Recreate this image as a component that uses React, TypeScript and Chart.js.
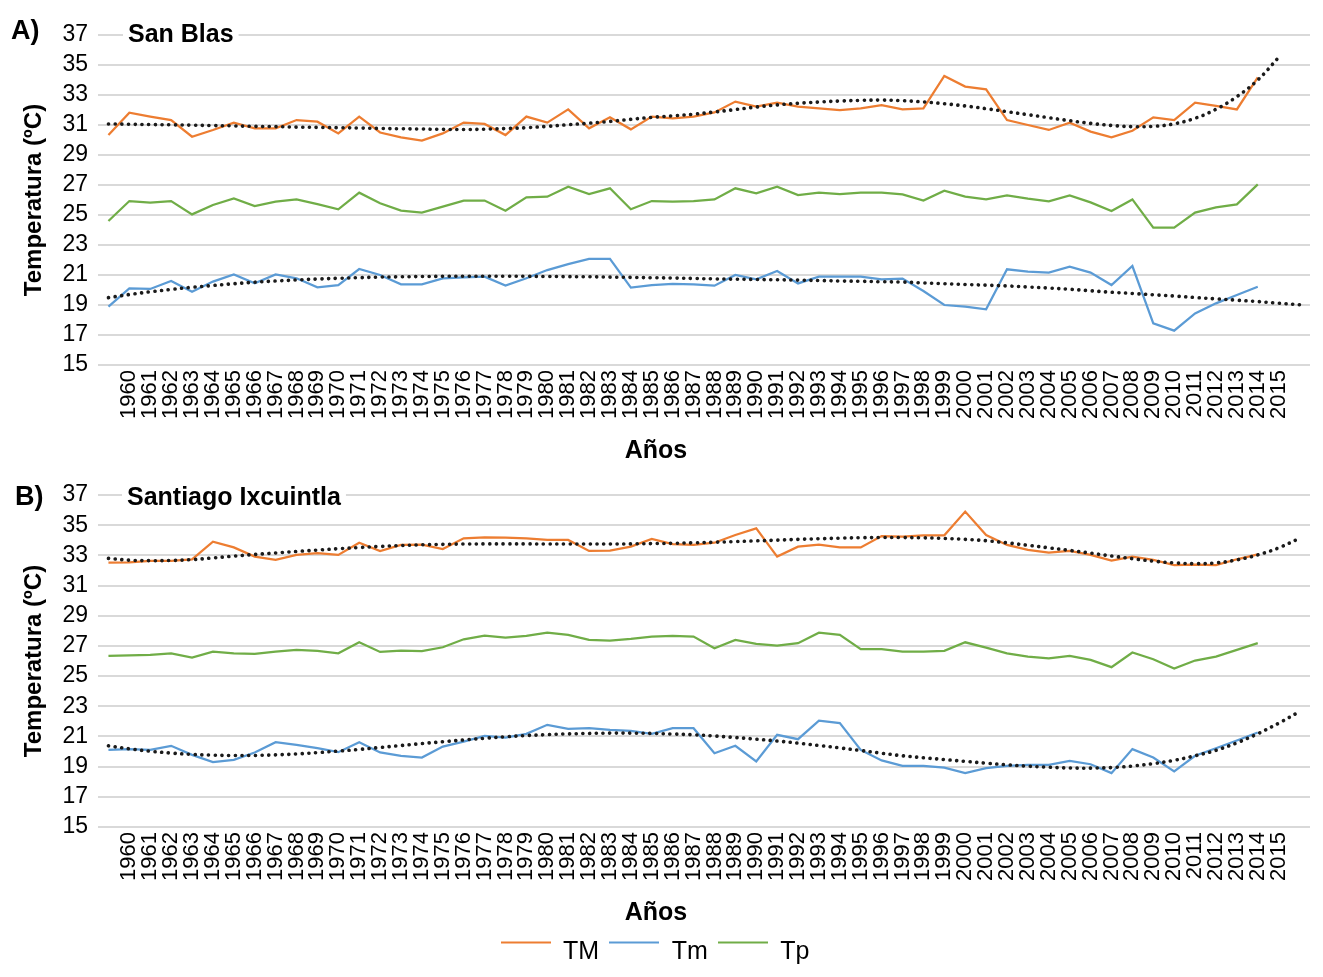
import React, { useEffect, useRef } from 'react';
import { Chart, registerables } from 'chart.js';

Chart.register(...registerables);

// ---------- DATA ----------
const yearLabels = [
  '', '1960', '1961', '1962', '1963', '1964', '1965', '1966', '1967', '1968', '1969',
  '1970', '1971', '1972', '1973', '1974', '1975', '1976', '1977', '1978', '1979',
  '1980', '1981', '1982', '1983', '1984', '1985', '1986', '1987', '1988', '1989',
  '1990', '1991', '1992', '1993', '1994', '1995', '1996', '1997', '1998', '1999',
  '2000', '2001', '2002', '2003', '2004', '2005', '2006', '2007', '2008', '2009',
  '2010', '2011', '2012', '2013', '2014', '2015', '',
];

const yTicks = [15, 17, 19, 21, 23, 25, 27, 29, 31, 33, 35, 37];

// A) San Blas
const sanBlasTM = [
  30.33, 31.82, 31.56, 31.33, 30.22, 30.67, 31.16, 30.78, 30.78, 31.33,
  31.22, 30.44, 31.56, 30.5, 30.18, 29.96, 30.44, 31.16, 31.07, 30.33,
  31.56, 31.16, 32.04, 30.78, 31.51, 30.71, 31.56, 31.44, 31.56, 31.84,
  32.56, 32.22, 32.49, 32.22, 32.11, 32.0, 32.11, 32.33, 32.04, 32.11,
  34.27, 33.56, 33.38, 31.33, 31.0, 30.67, 31.16, 30.56, 30.18, 30.62,
  31.51, 31.33, 32.49, 32.27, 32.04, 34.18,
];
const sanBlasTm = [
  18.89, 20.11, 20.07, 20.6, 19.89, 20.56, 21.04, 20.44, 21.04, 20.78,
  20.18, 20.33, 21.4, 21.0, 20.38, 20.38, 20.78, 20.84, 20.89, 20.29,
  20.78, 21.33, 21.73, 22.07, 22.07, 20.16, 20.33, 20.4, 20.38, 20.29,
  21.0, 20.71, 21.27, 20.44, 20.89, 20.89, 20.89, 20.71, 20.76, 19.93,
  19.0, 18.89, 18.71, 21.38, 21.22, 21.16, 21.56, 21.16, 20.33, 21.6,
  17.78, 17.29, 18.44, 19.11, 19.67, 20.22,
];
const sanBlasTp = [
  24.6, 25.93, 25.82, 25.93, 25.04, 25.67, 26.11, 25.6, 25.89, 26.04,
  25.73, 25.38, 26.49, 25.78, 25.29, 25.16, 25.56, 25.96, 25.96, 25.29,
  26.18, 26.22, 26.89, 26.4, 26.78, 25.38, 25.93, 25.89, 25.93, 26.04,
  26.78, 26.44, 26.89, 26.33, 26.49, 26.4, 26.49, 26.49, 26.38, 25.96,
  26.62, 26.22, 26.04, 26.31, 26.09, 25.91, 26.31, 25.84, 25.27, 26.04,
  24.16, 24.16, 25.16, 25.51, 25.71, 27.04,
];
const sanBlasTMTrend = [
  31.07, 31.05, 31.03, 31.01, 30.99, 30.96, 30.94, 30.91, 30.89, 30.86,
  30.84, 30.82, 30.8, 30.77, 30.75, 30.73, 30.71, 30.7, 30.72, 30.76,
  30.82, 30.91, 31.02, 31.12, 31.24, 31.38, 31.51, 31.61, 31.72, 31.87,
  32.03, 32.2, 32.34, 32.45, 32.53, 32.6, 32.64, 32.66, 32.62, 32.54,
  32.42, 32.27, 32.09, 31.89, 31.69, 31.49, 31.29, 31.11, 30.97, 30.89,
  30.91, 31.08, 31.45, 32.05, 32.89, 34.0, 35.51,
];
const sanBlasTmTrend = [
  19.49, 19.7, 19.88, 20.04, 20.18, 20.3, 20.42, 20.52, 20.6, 20.67,
  20.73, 20.78, 20.82, 20.86, 20.88, 20.9, 20.91, 20.92, 20.92, 20.92,
  20.91, 20.9, 20.89, 20.88, 20.86, 20.84, 20.82, 20.8, 20.77, 20.74,
  20.72, 20.7, 20.68, 20.66, 20.63, 20.6, 20.58, 20.55, 20.53, 20.47,
  20.42, 20.37, 20.32, 20.27, 20.2, 20.13, 20.05, 19.95, 19.85, 19.77,
  19.68, 19.6, 19.5, 19.41, 19.32, 19.23, 19.12, 19.02,
];

// B) Santiago Ixcuintla
const santiagoTM = [
  32.52, 32.54, 32.63, 32.63, 32.74, 33.91, 33.53, 32.92, 32.7, 33.03,
  33.14, 33.03, 33.84, 33.29, 33.69, 33.71, 33.42, 34.13, 34.2, 34.17,
  34.13, 34.02, 34.02, 33.29, 33.31, 33.58, 34.09, 33.75, 33.69, 33.84,
  34.35, 34.79, 32.92, 33.58, 33.71, 33.53, 33.53, 34.28, 34.24, 34.33,
  34.33, 35.9, 34.35, 33.69, 33.36, 33.18, 33.29, 33.03, 32.65, 32.92,
  32.7, 32.36, 32.39, 32.36, 32.74, 33.07,
];
const santiagoTm = [
  20.11, 20.16, 20.11, 20.38, 19.78, 19.3, 19.45, 19.94, 20.62, 20.44,
  20.22, 19.96, 20.62, 19.94, 19.72, 19.6, 20.33, 20.66, 21.04, 20.93,
  21.17, 21.77, 21.5, 21.55, 21.44, 21.37, 21.17, 21.55, 21.55, 19.89,
  20.38, 19.34, 21.11, 20.82, 22.05, 21.88, 20.11, 19.41, 19.05, 19.05,
  18.94, 18.57, 18.9, 19.05, 19.12, 19.12, 19.38, 19.16, 18.57, 20.16,
  19.6, 18.68, 19.72, 20.22, 20.73, 21.26,
];
const santiagoTp = [
  26.34, 26.38, 26.4, 26.51, 26.23, 26.62, 26.51, 26.47, 26.62, 26.74,
  26.67, 26.51, 27.24, 26.6, 26.69, 26.65, 26.91, 27.44, 27.68, 27.55,
  27.66, 27.88, 27.73, 27.4, 27.35, 27.46, 27.62, 27.66, 27.62, 26.85,
  27.4, 27.13, 27.02, 27.18, 27.88, 27.73, 26.78, 26.78, 26.62, 26.62,
  26.67, 27.24, 26.89, 26.51, 26.29, 26.18, 26.34, 26.07, 25.59, 26.56,
  26.12, 25.5, 26.03, 26.29, 26.74, 27.18,
];
const santiagoTMTrend = [
  32.8, 32.68, 32.65, 32.66, 32.72, 32.83, 32.95, 33.06, 33.16, 33.26,
  33.35, 33.44, 33.52, 33.59, 33.65, 33.7, 33.73, 33.75, 33.76, 33.76,
  33.76, 33.75, 33.75, 33.75, 33.75, 33.76, 33.78, 33.8, 33.83, 33.87,
  33.91, 33.96, 34.01, 34.06, 34.1, 34.14, 34.17, 34.18, 34.18, 34.16,
  34.12, 34.06, 33.97, 33.83, 33.67, 33.5, 33.33, 33.15, 32.96, 32.78,
  32.62, 32.5, 32.45, 32.5, 32.7, 33.03, 33.5, 34.13,
];
const santiagoTmTrend = [
  20.38, 20.18, 20.02, 19.9, 19.81, 19.76, 19.74, 19.74, 19.78, 19.84,
  19.93, 20.03, 20.14, 20.27, 20.4, 20.53, 20.65, 20.77, 20.88, 20.98,
  21.06, 21.12, 21.17, 21.2, 21.22, 21.22, 21.2, 21.16, 21.11, 21.03,
  20.93, 20.82, 20.7, 20.56, 20.4, 20.24, 20.07, 19.89, 19.72, 19.59,
  19.47, 19.35, 19.23, 19.12, 19.03, 18.96, 18.91, 18.9, 18.94, 19.04,
  19.2, 19.42, 19.72, 20.08, 20.58, 21.18, 21.88, 22.65,
];

// ---------- STYLE ----------
const FONT = '"Liberation Sans", Arial, Helvetica, sans-serif';
const COLOR_TM = '#ED7D31';
const COLOR_Tm = '#5B9BD5';
const COLOR_Tp = '#70AD47';
const COLOR_TREND = '#1a1a1a';
const GRID = '#d9d9d9';

// Legend symbol: a short line sitting a little above the label's centre
function legendLine(color: string) {
  const c = document.createElement('canvas');
  c.width = 50;
  c.height = 26;
  const g = c.getContext('2d');
  if (g) {
    g.strokeStyle = color;
    g.lineWidth = 2;
    g.beginPath();
    g.moveTo(0, 3);
    g.lineTo(50, 3);
    g.stroke();
  }
  return c;
}

function lineDs(label: string, data: number[], color: string) {
  return {
    label,
    data,
    borderColor: color,
    backgroundColor: color,
    borderWidth: 2.25,
    pointRadius: 0,
    pointHoverRadius: 0,
    pointStyle: legendLine(color),
    tension: 0,
    fill: false,
    order: 1,
  };
}

function trendDs(data: number[]) {
  return {
    label: 'trend',
    data,
    isTrend: true,
    borderColor: COLOR_TREND,
    backgroundColor: COLOR_TREND,
    borderWidth: 3.6,
    borderDash: [0.1, 6.6],
    borderCapStyle: 'round',
    pointRadius: 0,
    pointHoverRadius: 0,
    tension: 0.4,
    fill: false,
    order: 0,
  };
}

const panelTextPlugin = {
  id: 'panelText',
  afterDraw(chart: any, _args: any, opts: any) {
    if (!opts || !opts.title) return;
    const ctx = chart.ctx;
    const yTop = chart.scales.y.getPixelForValue(37);
    ctx.save();
    ctx.font = `bold 25px ${FONT}`;
    const w = ctx.measureText(opts.title).width;
    ctx.fillStyle = '#ffffff';
    ctx.fillRect(opts.titleX - 5, yTop - 4, w + 10, 8);
    ctx.fillStyle = '#000000';
    ctx.textAlign = 'left';
    ctx.textBaseline = 'alphabetic';
    ctx.fillText(opts.title, opts.titleX, yTop + opts.titleDy);
    ctx.font = `bold 27px ${FONT}`;
    ctx.fillText(opts.letter, opts.letterX, yTop + opts.letterDy);
    ctx.font = `bold 25px ${FONT}`;
    ctx.textAlign = 'center';
    ctx.textBaseline = 'middle';
    ctx.fillText(opts.xTitle, opts.xTitleX, opts.xTitleY);
    ctx.restore();
  },
};

type PanelProps = {
  top: number;
  height: number;
  datasets: any[];
  panel: any;
  showLegend: boolean;
  xHeight: number;
  padding: any;
};

function Panel({ top, height, datasets, panel, showLegend, xHeight, padding }: PanelProps) {
  const ref = useRef<HTMLCanvasElement | null>(null);
  useEffect(() => {
    if (!ref.current) return;
    const chart = new Chart(ref.current, {
      type: 'line',
      data: { labels: yearLabels, datasets },
      plugins: [panelTextPlugin],
      options: {
        animation: false,
        responsive: true,
        maintainAspectRatio: false,
        layout: { padding },
        events: [],
        plugins: {
          tooltip: { enabled: false },
          title: { display: false },
          legend: {
            display: showLegend,
            position: 'bottom',
            labels: {
              usePointStyle: true,
              pointStyleWidth: 50,
              boxWidth: 50,
              boxHeight: 25,
              padding: 10,
              color: '#000000',
              font: { family: FONT, size: 25 },
              filter: (item: any, data: any) => !data.datasets[item.datasetIndex].isTrend,
            },
          },
          panelText: panel,
        } as any,
        scales: {
          x: {
            type: 'category',
            offset: true,
            grid: { display: false, drawTicks: false },
            border: { display: false },
            ticks: {
              autoSkip: false,
              minRotation: 90,
              maxRotation: 90,
              padding: 5,
              color: '#000000',
              font: { family: FONT, size: 22 },
            },
            afterFit: (scale: any) => {
              scale.height = xHeight;
              scale.paddingLeft = 0;
              scale.paddingRight = 0;
            },
          },
          y: {
            type: 'linear',
            min: 15,
            max: 37,
            afterBuildTicks: (scale: any) => {
              scale.ticks = yTicks.map((v) => ({ value: v }));
            },
            grid: { color: GRID, lineWidth: 2, drawTicks: false },
            border: { display: false },
            ticks: {
              padding: 10,
              autoSkip: false,
              color: '#000000',
              font: { family: FONT, size: 23 },
            },
            title: {
              display: true,
              text: 'Temperatura (ºC)',
              color: '#000000',
              font: { family: FONT, size: 24, weight: 'bold' },
              padding: { top: 20, bottom: 0 },
            },
            afterFit: (scale: any) => {
              scale.width = 98;
            },
          },
        },
      } as any,
    });
    return () => chart.destroy();
  }, []);
  return (
    <div style={{ position: 'absolute', left: 0, top, width: 1323, height }}>
      <canvas ref={ref} />
    </div>
  );
}

export default function App() {
  const datasetsA = [
    lineDs('TM', sanBlasTM, COLOR_TM),
    lineDs('Tm', sanBlasTm, COLOR_Tm),
    lineDs('Tp', sanBlasTp, COLOR_Tp),
    trendDs(sanBlasTMTrend),
    trendDs(sanBlasTmTrend),
  ];
  const datasetsB = [
    lineDs('TM', santiagoTM, COLOR_TM),
    lineDs('Tm', santiagoTm, COLOR_Tm),
    lineDs('Tp', santiagoTp, COLOR_Tp),
    trendDs(santiagoTMTrend),
    trendDs(santiagoTmTrend),
  ];
  return (
    <div style={{ position: 'absolute', left: 0, top: 0, width: 1323, height: 977, background: '#ffffff', overflow: 'hidden' }}>
      <Panel
        top={0}
        height={470}
        datasets={datasetsA}
        showLegend={false}
        xHeight={105}
        padding={{ top: 35, left: 0, right: 13, bottom: 0 }}
        panel={{
          letter: 'A)', letterX: 11, letterDy: 3.5,
          title: 'San Blas', titleX: 128, titleDy: 6.5,
          xTitle: 'Años', xTitleX: 656, xTitleY: 451,
        }}
      />
      <Panel
        top={465}
        height={512}
        datasets={datasetsB}
        showLegend={true}
        xHeight={103}
        padding={{ top: 30, left: 0, right: 13, bottom: 2 }}
        panel={{
          letter: 'B)', letterX: 15, letterDy: 10,
          title: 'Santiago Ixcuintla', titleX: 127, titleDy: 10,
          xTitle: 'Años', xTitleX: 656, xTitleY: 448,
        }}
      />
    </div>
  );
}
